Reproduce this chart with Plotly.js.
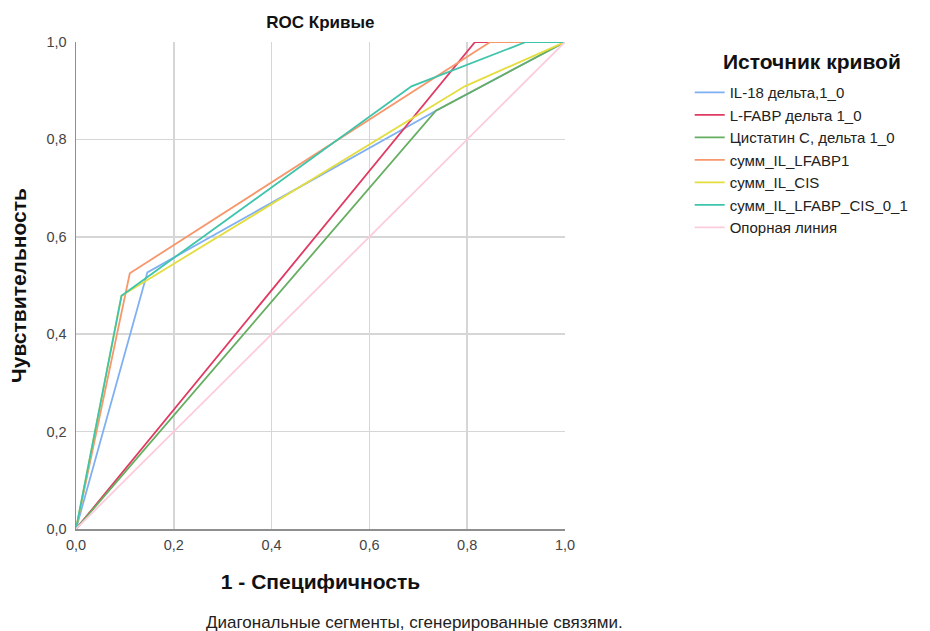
<!DOCTYPE html>
<html>
<head>
<meta charset="utf-8">
<script src="https://cdn.plot.ly/plotly-3.0.1.min.js"></script>
<style>body{margin:0;background:#fff}#chart{width:930px;height:631px}</style>
</head>
<body>
<div id="chart"></div>
<script>
// Series names
const seriesNames = ["IL-18 дельта,1_0", "L-FABP дельта 1_0", "Цистатин С, дельта 1_0", "сумм_IL_LFABP1", "сумм_IL_CIS", "сумм_IL_LFABP_CIS_0_1", "Опорная линия"];
// ROC points: 1 - specificity (x) and sensitivity (y)
const il18X = [0, 0.146, 0.736, 1];
const il18Y = [0, 0.527, 0.859, 1];
const lfabpX = [0, 0.816, 1];
const lfabpY = [0, 1, 1];
const cysX = [0, 0.736, 1];
const cysY = [0, 0.859, 1];
const sumIlLfabpX = [0, 0.11, 0.847, 1];
const sumIlLfabpY = [0, 0.525, 1, 1];
const sumIlCisX = [0, 0.093, 0.795, 1];
const sumIlCisY = [0, 0.479, 0.909, 1];
const sumAllX = [0, 0.093, 0.686, 0.92, 1];
const sumAllY = [0, 0.479, 0.909, 1, 1];
const refX = [0, 1];
const refY = [0, 1];
const tickVals = [0, 0.2, 0.4, 0.6, 0.8, 1.0];

const colors = ["#7fb0f2", "#e03a62", "#66ae61", "#f7976c", "#e3dd3e", "#3ec4aa", "#fcccdd"];
const xs = [il18X, lfabpX, cysX, sumIlLfabpX, sumIlCisX, sumAllX, refX];
const ys = [il18Y, lfabpY, cysY, sumIlLfabpY, sumIlCisY, sumAllY, refY];

const traces = seriesNames.map((n, i) => ({
  x: xs[i], y: ys[i], name: n, type: "scatter", mode: "lines",
  line: {color: colors[i], width: 1.8}
}));

const font = "Liberation Sans, Arial, sans-serif";
const layout = {
  width: 930, height: 631,
  margin: {l: 76, r: 365, t: 42, b: 102, autoexpand: false},
  paper_bgcolor: "#fff", plot_bgcolor: "#fff",
  separators: ", ",
  font: {family: font, color: "#222", size: 12},
  title: {text: "<b>ROC Кривые</b>", x: 0.3445, xanchor: "center", y: 0.965, yanchor: "middle", font: {size: 17, family: font, color: "#111"}},
  xaxis: {
    range: [0, 1], tickvals: tickVals, tickformat: ".1f", ticks: "", ticklen: 0,
    showgrid: true, gridcolor: "#d6d6d6", gridwidth: 1.5, zeroline: false,
    showline: true, linecolor: "#8f8f8f", linewidth: 1.5, mirror: false,
    tickfont: {size: 14.5, color: "#444"}, ticklabelstandoff: 2,
    title: {text: "<b>1 - Специфичность</b>", font: {size: 21, family: font, color: "#111"}, standoff: 22}
  },
  yaxis: {
    range: [0, 1], tickvals: tickVals, tickformat: ".1f", ticks: "", ticklen: 0,
    showgrid: true, gridcolor: "#d6d6d6", gridwidth: 1.5, zeroline: false,
    showline: true, linecolor: "#8f8f8f", linewidth: 1.5,
    tickfont: {size: 14.5, color: "#444"}, ticklabelstandoff: 5,
    title: {text: "<b>Чувствительность</b>", font: {size: 21, family: font, color: "#111"}, standoff: 14}
  },
  showlegend: true,
  legend: {
    x: 1.255, xanchor: "left", y: 0.93, yanchor: "top",
    font: {size: 15, family: font, color: "#222"},
    bgcolor: "rgba(0,0,0,0)", borderwidth: 0, itemwidth: 30
  },
  annotations: [{
    text: "<b>Источник кривой</b>",
    xref: "paper", yref: "paper", x: 1.505, y: 0.959, xanchor: "center", yanchor: "middle",
    showarrow: false, font: {size: 21, family: font, color: "#111"}
  }, {
    text: "Диагональные сегменты, сгенерированные связями.",
    xref: "paper", yref: "paper", x: 0.693, y: -0.191, xanchor: "center", yanchor: "middle",
    showarrow: false, font: {size: 17, family: font, color: "#222"}
  }]
};
Plotly.newPlot("chart", traces, layout, {displayModeBar: false, staticPlot: true});
</script>
</body>
</html>
